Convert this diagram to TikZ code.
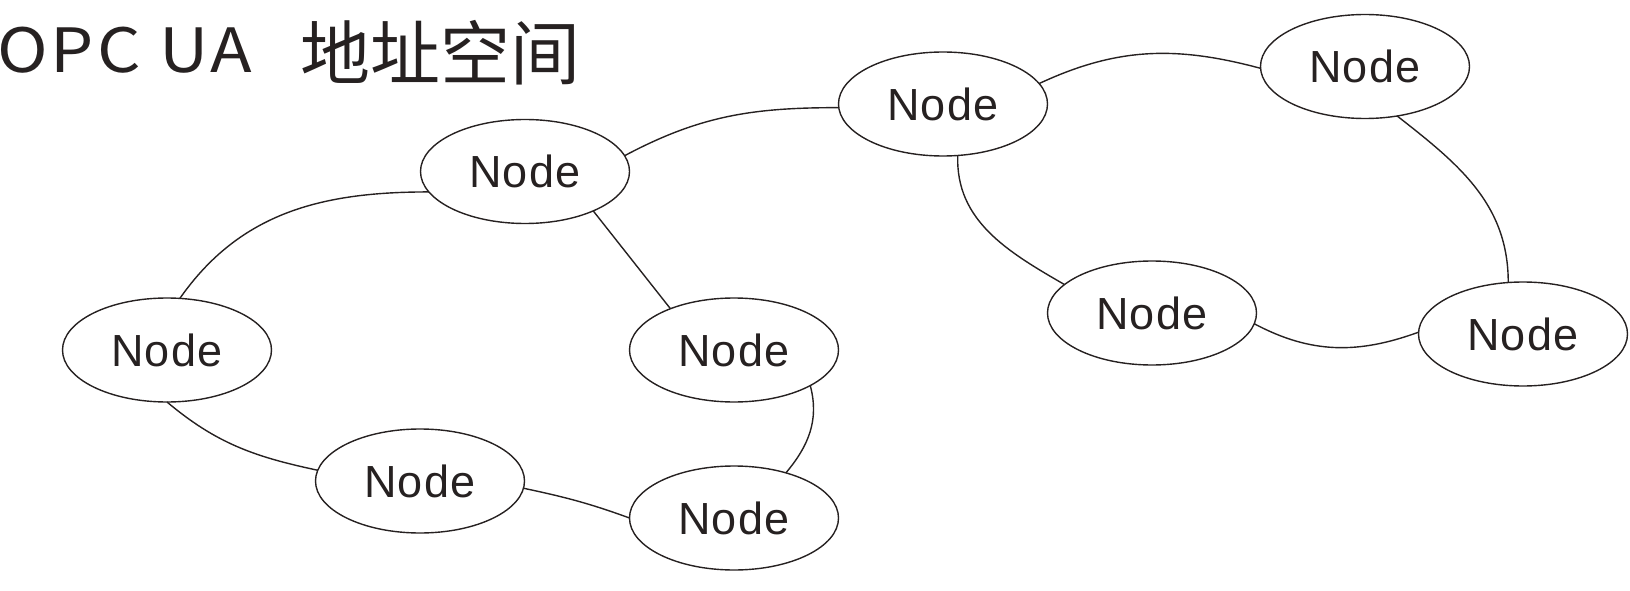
\documentclass[tikz,border=0pt]{standalone}
\usepackage{fontspec}
\setmainfont{Liberation Sans}
\newfontfamily\cjk{Noto Sans CJK SC}
\newfontfamily\titlelatin[FakeStretch=1.12,LetterSpace=5]{Noto Sans CJK SC}
\usetikzlibrary{shapes.geometric}
\definecolor{ink}{RGB}{38,33,33}
\tikzset{
  addr/.style={ellipse, draw=ink, line width=1.4pt, minimum width=209pt,
    minimum height=104pt, inner sep=0pt, outer sep=0pt, text=ink,
    font=\fontsize{45}{50}\selectfont\addfontfeature{LetterSpace=3}},
  link/.style={draw=ink, line width=1.4pt},
}
\begin{document}
\begin{tikzpicture}[x=1pt,y=1pt]
\useasboundingbox (0,0) rectangle (1630,590);
% title
\node[anchor=base west, inner sep=0pt, text=ink,
  font=\titlelatin\fontsize{61}{66}\selectfont] (t1) at (-3,517) {OPC UA};
\node[anchor=west, inner sep=0pt, text=ink,
  font=\cjk\fontsize{70}{74}\selectfont] (t2) at (300,537) {地址空间};
% nodes
\node[addr] (n1) at (525,418.5) {Node};
\node[addr] (n2) at (943,486) {Node};
\node[addr] (n3) at (1365,523.5) {Node};
\node[addr] (n4) at (167,240) {Node};
\node[addr] (n5) at (734,240) {Node};
\node[addr] (n6) at (420,109) {Node};
\node[addr] (n7) at (734,72) {Node};
\node[addr] (n8) at (1152,277) {Node};
\node[addr] (n9) at (1523,256) {Node};
% links
\draw[link] (n1.9) to[out=28,in=180] (n2.182);
\draw[link] (n1.192) to[out=180,in=55] (n4.76);
\draw[link] (n1.-30) -- (n5.147);
\draw[link] (n4.270) to[out=-40,in=168] (n6.174);
\draw[link] (n6.-4) to[out=-12,in=160] (n7.180);
\draw[link] (n5.-25) to[out=-75,in=50] (n7.41);
\draw[link] (n2.12) to[out=25,in=165] (n3.181);
\draw[link] (n2.-74) to[out=-92,in=150] (n8.162);
\draw[link] (n3.-57) to[out=-38,in=90] (n9.106);
\draw[link] (n8.-6) to[out=-28,in=200] (n9.179);
\end{tikzpicture}
\end{document}
